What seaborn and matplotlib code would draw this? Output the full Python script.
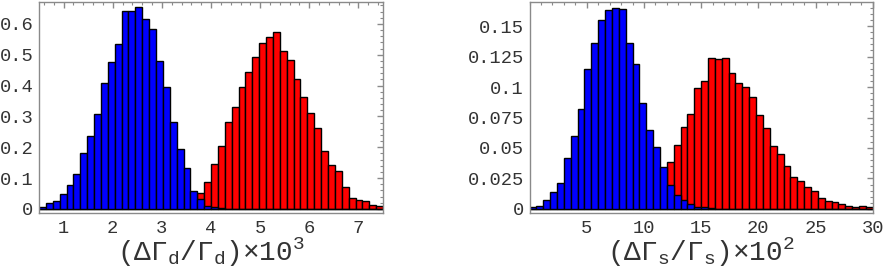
import numpy as np
import pandas as pd
import matplotlib
matplotlib.use("Agg")
import matplotlib.pyplot as plt
import seaborn as sns
from matplotlib.ticker import MultipleLocator, FuncFormatter

# --------------------------------------------------
# DATA (bin heights)
# --------------------------------------------------

n_bins = 50

d_range = (0.5, 7.5)

d_blue = [
    0.005, 0.019, 0.027, 0.048, 0.078, 0.112, 0.180, 0.236, 0.309, 0.408,
    0.475, 0.534, 0.643, 0.642, 0.656, 0.617, 0.583, 0.480, 0.395, 0.281,
    0.196, 0.132, 0.059, 0.031, 0.010, 0.007, 0.002, 0, 0, 0,
    0, 0, 0, 0, 0, 0, 0, 0, 0, 0,
    0, 0, 0, 0, 0, 0, 0, 0, 0, 0
]

d_red = [
    0, 0, 0, 0, 0, 0, 0, 0, 0, 0,
    0, 0, 0, 0, 0, 0, 0, 0, 0, 0,
    0, 0, 0, 0.053, 0.089, 0.146, 0.205, 0.283, 0.332, 0.397,
    0.444, 0.492, 0.539, 0.559, 0.574, 0.511, 0.482, 0.422, 0.364, 0.312,
    0.262, 0.188, 0.142, 0.124, 0.072, 0.035, 0.029, 0.025, 0.013, 0.009
]

s_range = (0, 30)

s_blue = [
    0.0014, 0.0024, 0.0073, 0.0139, 0.0217, 0.042, 0.060, 0.082, 0.115, 0.136,
    0.155, 0.163, 0.165, 0.164, 0.136, 0.119, 0.087, 0.065, 0.051, 0.0345,
    0.0196, 0.0114, 0.0073, 0.004, 0.002, 0.0014, 0.0008, 0, 0, 0,
    0, 0, 0, 0, 0, 0, 0, 0, 0, 0,
    0, 0, 0, 0, 0, 0, 0, 0, 0, 0
]

s_red = [
    0, 0, 0, 0, 0, 0, 0, 0, 0, 0,
    0, 0, 0, 0, 0, 0, 0, 0, 0, 0,
    0.0386, 0.0527, 0.067, 0.078, 0.099, 0.1046, 0.1236, 0.1228, 0.1236, 0.1114,
    0.1035, 0.1003, 0.0916, 0.0772, 0.0663, 0.0519, 0.0448, 0.0356, 0.0266, 0.0228,
    0.0182, 0.0147, 0.0087, 0.0065, 0.0054, 0.0043, 0.0022, 0.0016, 0.0024, 0.0014
]

# --------------------------------------------------
# STYLE
# --------------------------------------------------

sns.set_style("white")

plt.rcParams["font.family"] = ["Liberation Mono", "DejaVu Sans Mono"]
plt.rcParams["mathtext.fontset"] = "custom"
plt.rcParams["mathtext.rm"] = "Liberation Mono"
plt.rcParams["mathtext.it"] = "Liberation Mono"

frame_col = "#8a8a8a"
text_col = "#333333"

fig = plt.figure(figsize=(8.83, 2.71), dpi=100)

ax1 = fig.add_axes([0.0442, 0.214, 0.3896, 0.7786])
ax2 = fig.add_axes([0.5997, 0.214, 0.3887, 0.7786])


def draw_panel(ax, rng, blue, red):
    width = (rng[1] - rng[0]) / n_bins
    centers = rng[0] + width * (np.arange(n_bins) + 0.5)
    df = pd.DataFrame({"x": centers, "blue": blue, "red": red})

    # red first, blue drawn on top
    sns.histplot(
        data=df, x="x", weights="red", bins=n_bins, binrange=rng,
        stat="count", color="#ff0000", alpha=1, edgecolor="black",
        linewidth=1, ax=ax
    )
    sns.histplot(
        data=df, x="x", weights="blue", bins=n_bins, binrange=rng,
        stat="count", color="#0000ff", alpha=1, edgecolor="black",
        linewidth=1, ax=ax
    )

    ax.set_xlim(rng)
    ax.set_ylabel("")

    for sp in ax.spines.values():
        sp.set_visible(True)
        sp.set_color(frame_col)
        sp.set_linewidth(1)

    ax.tick_params(
        which="both", direction="in", top=True, right=True,
        colors=frame_col, labelcolor=text_col, labelsize=13.5
    )
    ax.tick_params(which="major", length=4, width=1)
    ax.tick_params(which="minor", length=2, width=0.8)
    ax.tick_params(axis="x", pad=5)
    ax.tick_params(axis="y", pad=4)

    ax.yaxis.set_major_formatter(FuncFormatter(lambda v, p: "%g" % round(v, 4)))
    ax.xaxis.set_major_formatter(FuncFormatter(lambda v, p: "%g" % v))


draw_panel(ax1, d_range, d_blue, d_red)
ax1.set_ylim(-0.013, 0.671)
ax1.xaxis.set_major_locator(MultipleLocator(1))
ax1.xaxis.set_minor_locator(MultipleLocator(0.2))
ax1.yaxis.set_major_locator(MultipleLocator(0.1))
ax1.yaxis.set_minor_locator(MultipleLocator(0.02))
ax1.set_xlabel(r"($\Delta\Gamma_{\rm d}$/$\Gamma_{\rm d}$)$\times$10$^{3}$",
               fontsize=20, color=text_col, labelpad=-1)

draw_panel(ax2, s_range, s_blue, s_red)
ax2.set_ylim(-0.0033, 0.1697)
ax2.xaxis.set_major_locator(MultipleLocator(5))
ax2.xaxis.set_minor_locator(MultipleLocator(1))
ax2.yaxis.set_major_locator(MultipleLocator(0.025))
ax2.yaxis.set_minor_locator(MultipleLocator(0.005))
ax2.set_xticks([5, 10, 15, 20, 25, 30])
ax2.set_xlabel(r"($\Delta\Gamma_{\rm s}$/$\Gamma_{\rm s}$)$\times$10$^{2}$",
               fontsize=20, color=text_col, labelpad=-1)

fig.savefig("out.png", dpi=100)
